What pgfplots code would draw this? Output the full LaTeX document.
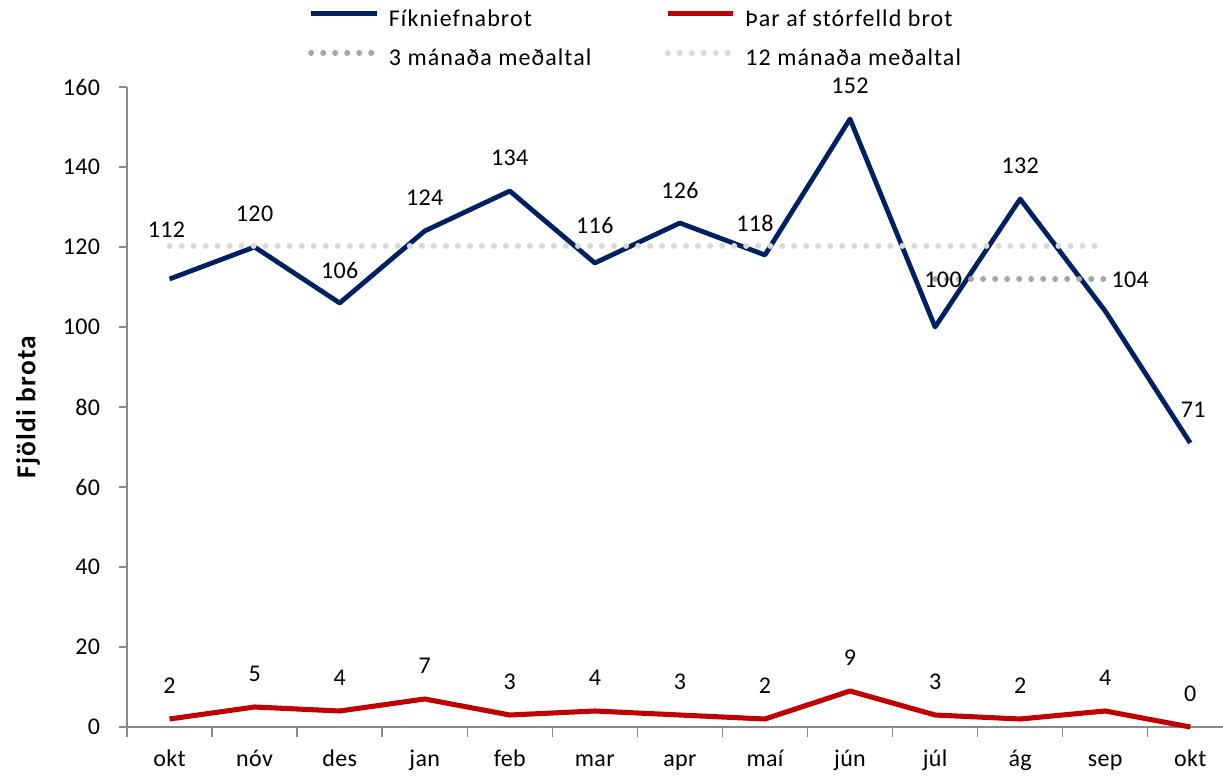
\documentclass[border=0pt]{standalone}
\usepackage{fontspec}
\setmainfont{Carlito}[LetterSpace=1.5]
\newfontfamily\legendfont{Carlito}[LetterSpace=4.5]
\newfontfamily\ylabfont{Carlito}[LetterSpace=4.5]
\usepackage{pgfplots}
\pgfplotsset{compat=1.18}
\definecolor{navy}{HTML}{002060}
\definecolor{dred}{HTML}{C00000}
\definecolor{gthree}{HTML}{A6A6A6}
\definecolor{gtwelve}{HTML}{D9D9D9}
\definecolor{axgray}{HTML}{898989}
\begin{document}
\begin{tikzpicture}
\begin{axis}[
  at={(0,0)}, anchor=south west,
  scale only axis,
  width=822pt, height=480pt,
  xmin=-0.5, xmax=12.385,
  ymin=0, ymax=160,
  ytick={0,20,...,160},
  xtick={0,...,12},
  xticklabels={okt,nóv,des,jan,feb,mar,apr,maí,jún,júl,ág,sep,okt},
  minor xtick={-0.5,0.5,...,11.5},
  axis lines=left,
  axis line style={-, draw=axgray, line width=1.1pt},
  tick align=outside,
  major tick length=6pt,
  minor tick length=7.5pt,
  major x tick style={draw=none},
  tick style={draw=axgray, line width=1.1pt},
  minor tick style={draw=axgray, line width=1.1pt},
  /pgf/number format/assume math mode=true,
  tick label style={font=\fontsize{18}{21}\selectfont, text=black},
  yticklabel style={anchor=east, inner sep=0pt, xshift=-14pt},
  xticklabel style={anchor=base, inner sep=0pt, yshift=-24pt},
  ylabel={\ylabfont\bfseries Fjöldi brota},
  every axis y label/.style={at={(axis description cs:-0.0903,0.5)}, rotate=90, anchor=center, font=\fontsize{20.5}{23}\selectfont},
  legend columns=2,
  legend cell align=left,
  legend style={at={(axis description cs:0.1651,1.122)}, anchor=north west,
    draw=none, fill=none, inner sep=0pt, row sep=12.25pt,
    font=\legendfont\fontsize{18}{21}\selectfont,
    nodes={inner sep=0pt, text height=13pt, text depth=4pt},
    /tikz/every odd column/.append style={column sep=7pt},
    /tikz/every even column/.append style={column sep=55pt}},
  legend image code/.code={\draw[#1] (0pt,5pt) -- (49pt,5pt);},
  nodes near coords style={anchor=center, inner sep=0pt, text=black, font=\fontsize{18}{21}\selectfont, yshift=24.75pt},
  clip=false,
]
\addplot[navy, line width=3.6pt, line join=round, nodes near coords,
  coordinate style/.condition={x==0}{xshift=-2.25pt, yshift=12pt},
  coordinate style/.condition={x==5}{yshift=3.75pt},
  coordinate style/.condition={x==7}{xshift=-7.5pt, yshift=-0.75pt},
  coordinate style/.condition={x==9}{xshift=6pt, yshift=10.5pt},
  coordinate style/.condition={x==11}{xshift=18.75pt, yshift=-1.5pt},
  coordinate style/.condition={x==12}{xshift=2.25pt},
] coordinates {
  (0,112) (1,120) (2,106) (3,124) (4,134) (5,116) (6,126) (7,118) (8,152) (9,100) (10,132) (11,104) (12,71)
};
\addlegendentry{Fíkniefnabrot}
\addplot[dred, line width=3.8pt, line join=round, nodes near coords] coordinates {
  (0,2) (1,5) (2,4) (3,7) (4,3) (5,4) (6,3) (7,2) (8,9) (9,3) (10,2) (11,4) (12,0)
};
\addlegendentry{Þar af stórfelld brot}
\addplot[gthree, line width=4.5pt, line cap=round, dash pattern=on 0.01pt off 9pt] coordinates {
  (9,112) (10,112) (11,112)
};
\addlegendentry{3 mánaða meðaltal}
\addplot[gtwelve, line width=4.5pt, line cap=round, dash pattern=on 0.01pt off 9pt] coordinates {
  (0,120.33) (1,120.33) (2,120.33) (3,120.33) (4,120.33) (5,120.33) (6,120.33) (7,120.33) (8,120.33) (9,120.33) (10,120.33) (11,120.33)
};
\addlegendentry{12 mánaða meðaltal}
\end{axis}
\pgfresetboundingbox
\path[use as bounding box] (-95.25pt,-37.5pt) rectangle (822pt,545.25pt);
\end{tikzpicture}
\end{document}
